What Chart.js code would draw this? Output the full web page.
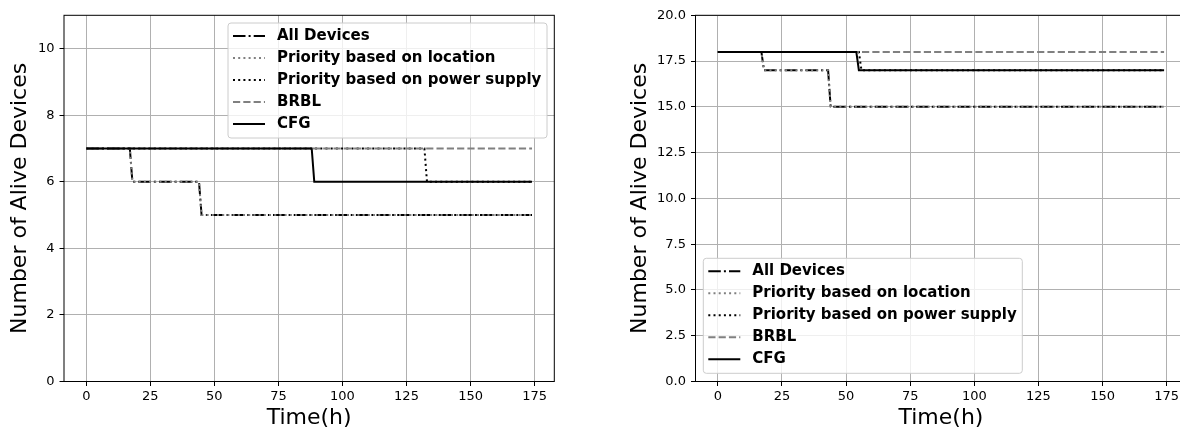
<!DOCTYPE html>
<html>
<head>
<meta charset="utf-8">
<script src="https://cdn.jsdelivr.net/npm/chart.js@4.4.1/dist/chart.umd.min.js"></script>
<style>
  html, body { margin: 0; padding: 0; background: #fff; width: 1180px; height: 427px; overflow: hidden; }
  canvas { position: absolute; top: 0; }
  #left { left: 0; }
  #right { left: 590px; }
</style>
</head>
<body>
<canvas id="left" width="590" height="440"></canvas>
<canvas id="right" width="620" height="440"></canvas>
<script>
// --- data ---
const seriesNames = ['All Devices', 'Priority based on location', 'Priority based on power supply', 'BRBL', 'CFG'];
const timeTicks = [0, 25, 50, 75, 100, 125, 150, 175];

// left panel
const leftAllX = [0, 17, 18, 44, 45, 174];
const leftAllY = [7, 7, 6, 6, 5, 5];
const leftLocX = [0, 17, 18, 44, 45, 174];
const leftLocY = [7, 7, 6, 6, 5, 5];
const leftPowerX = [0, 132, 133, 174];
const leftPowerY = [7, 7, 6, 6];
const leftBrblX = [0, 174];
const leftBrblY = [7, 7];
const leftCfgX = [0, 88, 89, 174];
const leftCfgY = [7, 7, 6, 6];
const leftYTicks = [0, 2, 4, 6, 8, 10];

// right panel
const rightAllX = [0, 17, 18, 43, 44, 174];
const rightAllY = [18, 18, 17, 17, 15, 15];
const rightLocX = [0, 17, 18, 43, 44, 174];
const rightLocY = [18, 18, 17, 17, 15, 15];
const rightPowerX = [0, 55, 56, 174];
const rightPowerY = [18, 18, 17, 17];
const rightBrblX = [0, 174];
const rightBrblY = [18, 18];
const rightCfgX = [0, 54, 55, 174];
const rightCfgY = [18, 18, 17, 17];
const rightYTicks = [0, 2.5, 5, 7.5, 10, 12.5, 15, 17.5, 20];

Chart.defaults.font.family = '"DejaVu Sans", sans-serif';
Chart.defaults.color = '#000';

// matplotlib-like line styles, lw 1.5pt
const styles = [
    { borderColor: '#000', borderDash: [12.5, 3.1, 2, 3.1] },
    { borderColor: '#808080', borderDash: [2, 3.2] },
    { borderColor: '#000', borderDash: [2, 3.2] },
    { borderColor: '#808080', borderDash: [7.2, 3.1] },
    { borderColor: '#000', borderDash: [] }
];

function pts(xs, ys) {
    return xs.map((x, i) => ({ x: x, y: ys[i] }));
}

function makeDatasets(series) {
    return series.map((s, i) => ({
        label: seriesNames[i],
        data: pts(s[0], s[1]),
        borderColor: styles[i].borderColor,
        borderDash: styles[i].borderDash,
        borderWidth: 2,
        pointRadius: 0,
        tension: 0,
        fill: false,
        order: series.length - i   // later series on top, like matplotlib
    }));
}

// axes frame + in-axes legend box
const frameAndLegend = {
    id: 'frameAndLegend',
    afterDatasetsDraw(chart, args, opts) {
        const { ctx, chartArea: a } = chart;
        ctx.save();
        ctx.strokeStyle = '#000';
        ctx.lineWidth = 1;
        ctx.strokeRect(a.left, a.top, a.right - a.left, a.bottom - a.top);

        const b = opts.box;
        ctx.beginPath();
        ctx.roundRect(b.x, b.y, b.w, b.h, 3);
        ctx.fillStyle = 'rgba(255,255,255,0.8)';
        ctx.fill();
        ctx.strokeStyle = '#cccccc';
        ctx.stroke();

        ctx.font = 'bold 15px "DejaVu Sans"';
        ctx.textBaseline = 'middle';
        chart.data.datasets.forEach((ds, i) => {
            const y = b.y + 13 + i * 22;
            ctx.setLineDash(ds.borderDash);
            ctx.strokeStyle = ds.borderColor;
            ctx.lineWidth = ds.borderWidth;
            ctx.beginPath();
            ctx.moveTo(b.x + 5, y);
            ctx.lineTo(b.x + 37, y);
            ctx.stroke();
            ctx.setLineDash([]);
            ctx.fillStyle = '#000';
            ctx.fillText(ds.label, b.x + 49, y);
        });
        ctx.restore();
    }
};

function createPanel(canvasId, series, yMax, yTicks, yFmt, cfg) {
    const ctx = document.getElementById(canvasId).getContext('2d');
    const grid = { color: '#b0b0b0', lineWidth: 1, tickLength: 4.5, tickColor: '#000', tickWidth: 1 };
    return new Chart(ctx, {
        type: 'line',
        data: { datasets: makeDatasets(series) },
        options: {
            responsive: false, animation: false, devicePixelRatio: 1,
            layout: { padding: { top: 15.3, right: cfg.padRight, left: 0, bottom: 0 } },
            scales: {
                x: {
                    type: 'linear', min: -8.7, max: 182.7,
                    afterBuildTicks: s => { s.ticks = timeTicks.map(v => ({ value: v })); },
                    afterFit: s => { s.height = 58.5; },
                    grid: grid, border: { display: false },
                    ticks: { font: { size: 13 }, padding: 3, maxRotation: 0, autoSkip: false },
                    title: { display: true, text: 'Time(h)', font: { size: 22, lineHeight: 1 }, padding: { top: 0, bottom: 10.6 } }
                },
                y: {
                    type: 'linear', min: 0, max: yMax,
                    afterBuildTicks: s => { s.ticks = yTicks.map(v => ({ value: v })); },
                    afterFit: s => { s.width = cfg.yWidth; },
                    grid: grid, border: { display: false },
                    ticks: { font: { size: 13 }, padding: 5, autoSkip: false, callback: v => yFmt(v) },
                    title: { display: true, text: 'Number of Alive Devices', font: { size: 22, lineHeight: 1 }, padding: { top: cfg.titlePad, bottom: 0 } }
                }
            },
            plugins: {
                legend: { display: false },
                tooltip: { enabled: false },
                frameAndLegend: { box: cfg.box }
            }
        },
        plugins: [frameAndLegend]
    });
}

createPanel('left', [
    [leftAllX, leftAllY], [leftLocX, leftLocY], [leftPowerX, leftPowerY], [leftBrblX, leftBrblY], [leftCfgX, leftCfgY]
], 11, leftYTicks, v => String(v), {
    padRight: 35.7, yWidth: 64, titlePad: 9.7,
    box: { x: 228, y: 23, w: 319, h: 115 }
});

createPanel('right', [
    [rightAllX, rightAllY], [rightLocX, rightLocY], [rightPowerX, rightPowerY], [rightBrblX, rightBrblY], [rightCfgX, rightCfgY]
], 20, rightYTicks, v => v.toFixed(1), {
    padRight: 23.6, yWidth: 105.5, titlePad: 39,
    box: { x: 113.3, y: 258.3, w: 319, h: 115 }
});
</script>
</body>
</html>
